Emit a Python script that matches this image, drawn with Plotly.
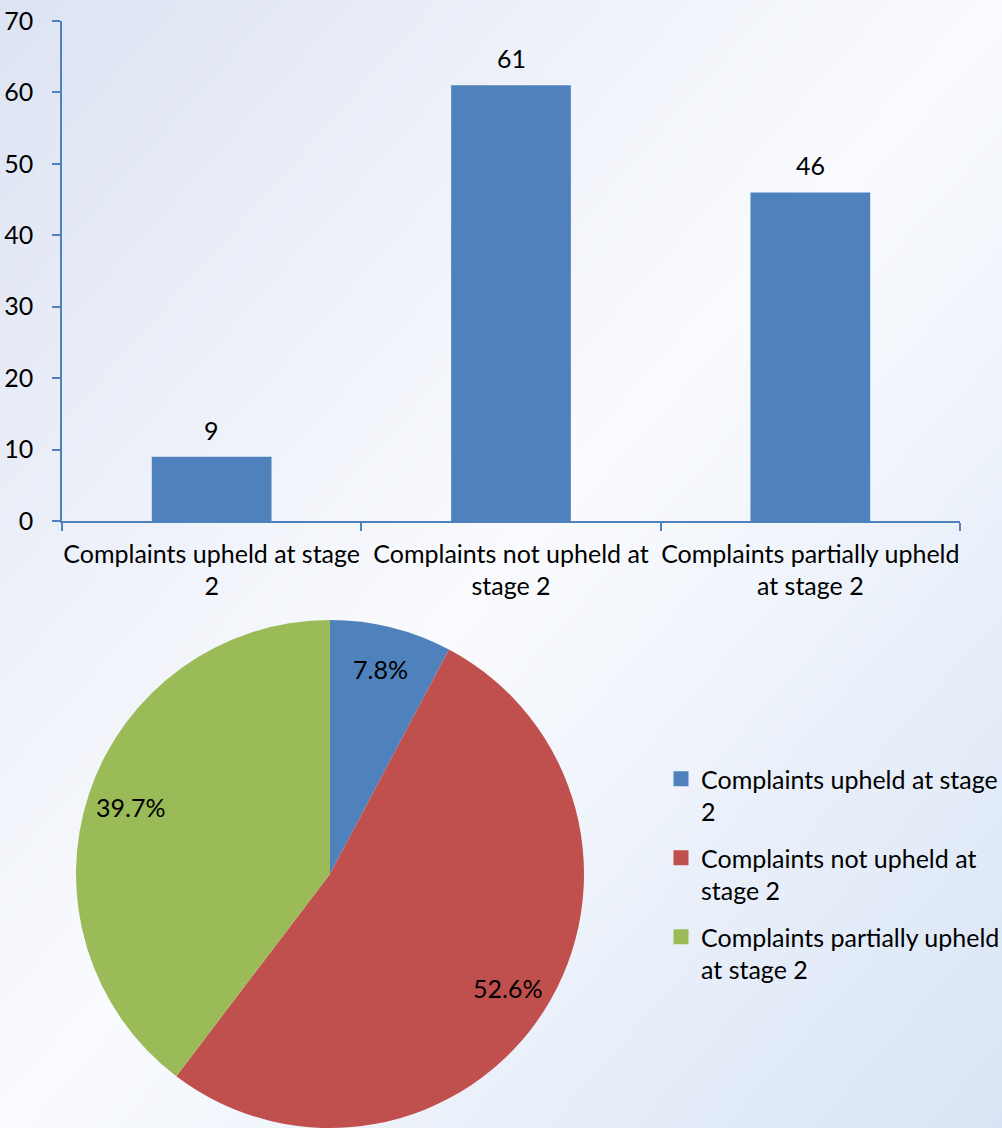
import numpy as np
import plotly.graph_objects as go

# Complaint outcomes at stage 2
categories = [
    "Complaints upheld at stage<br>2",
    "Complaints not upheld at<br>stage 2",
    "Complaints partially upheld<br>at stage 2",
]
counts = [9, 61, 46]
slice_colors = ["#4f81bd", "#c0504d", "#9bbb59"]
y_ticks = [0, 10, 20, 30, 40, 50, 60, 70]

W, H = 1002, 1128
FONT = "Lato"
FS = 25
AXIS_BLUE = "#4f81bd"

fig = go.Figure()

# soft diagonal backdrop: bluish at top-left / bottom-right, near white across the middle
gx = np.linspace(0, 1, 120)
gy = np.linspace(0, 1, 120)
GX, GY = np.meshgrid(gx, gy)
fig.add_trace(go.Heatmap(
    x=gx, y=gy, z=GX - GY, zmin=-1, zmax=1, zsmooth="best",
    colorscale=[[0, "rgb(220,227,242)"], [0.5, "rgb(250,251,254)"], [1, "rgb(216,228,245)"]],
    showscale=False, hoverinfo="skip", xaxis="x", yaxis="y", showlegend=False,
))

# bar chart
fig.add_trace(go.Bar(
    x=categories, y=counts, marker_color=slice_colors[0], marker_line_width=0,
    xaxis="x2", yaxis="y2", showlegend=False,
))

# pie chart
pie_x0, pie_x1 = 75, 585
pie_top = 620
fig.add_trace(go.Pie(
    labels=categories, values=counts, sort=False, direction="clockwise", rotation=0,
    marker=dict(colors=slice_colors, line=dict(width=0)),
    textinfo="none", hoverinfo="label+value+percent", showlegend=False,
    domain=dict(x=[pie_x0 / W, pie_x1 / W], y=[0, 1 - pie_top / H]),
))

# legend entries for the pie slices (square swatches, one group each for spacing)
for i, (cat, col) in enumerate(zip(categories, slice_colors)):
    fig.add_trace(go.Scatter(
        x=[None], y=[None], mode="markers", name=cat, legendgroup=f"g{i}",
        marker=dict(symbol="square", size=15, color=col), xaxis="x", yaxis="y",
    ))

annotations = []
# value labels above bars
for cat, v in zip(categories, counts):
    annotations.append(dict(
        x=cat, y=v, xref="x2", yref="y2", text=str(v), showarrow=False,
        yanchor="middle", yshift=27, font=dict(family=FONT, size=FS, color="black"),
    ))

# percentage labels placed along each slice's mid angle
total = sum(counts)
r_px = min(pie_x1 - pie_x0, H - pie_top) / 2
cx_px = (pie_x0 + pie_x1) / 2
cy_px = H - r_px
start = 0.0
for v in counts:
    frac = v / total
    mid = (start + frac / 2) * 2 * np.pi
    start += frac
    px = cx_px + 0.83 * r_px * np.sin(mid)
    py = cy_px - 0.83 * r_px * np.cos(mid)
    annotations.append(dict(
        x=px / W, y=1 - py / H, xref="paper", yref="paper", text=f"{frac * 100:.1f}%",
        showarrow=False, xanchor="center", yanchor="middle",
        font=dict(family=FONT, size=FS, color="black"),
    ))

fig.update_layout(
    template="none",
    width=W, height=H, margin=dict(l=0, r=0, t=0, b=0, autoexpand=False),
    paper_bgcolor="white", plot_bgcolor="rgba(0,0,0,0)",
    font=dict(family=FONT, size=FS, color="black"),
    bargap=0.6,
    xaxis=dict(domain=[0, 1], range=[0, 1], visible=False, fixedrange=True, automargin=False),
    yaxis=dict(domain=[0, 1], range=[0, 1], visible=False, fixedrange=True, automargin=False),
    xaxis2=dict(
        domain=[62 / W, 960 / W], anchor="y2", showline=True, linecolor=AXIS_BLUE, linewidth=1.5,
        ticks="outside", tickson="boundaries", ticklen=8, tickcolor=AXIS_BLUE, tickwidth=1.5,
        showgrid=False, zeroline=False, automargin=False, ticklabelstandoff=10, tickangle=0,
        tickfont=dict(family=FONT, size=FS, color="black"),
    ),
    yaxis2=dict(
        domain=[1 - 521 / H, 1 - 21 / H], anchor="x2", range=[0, 70], tickvals=y_ticks,
        showline=True, linecolor=AXIS_BLUE, linewidth=1.5, ticks="outside", ticklen=8,
        tickcolor=AXIS_BLUE, tickwidth=1.5, showgrid=False, zeroline=False, automargin=False,
        tickfont=dict(family=FONT, size=FS, color="black"), ticklabelstandoff=14,
    ),
    legend=dict(
        x=661 / W, y=1 - 756 / H, xanchor="left", yanchor="top", valign="top",
        tracegroupgap=11, bgcolor="rgba(0,0,0,0)", borderwidth=0,
        font=dict(family=FONT, size=FS, color="black"),
    ),
    annotations=annotations,
)

fig.write_html("out.html")
